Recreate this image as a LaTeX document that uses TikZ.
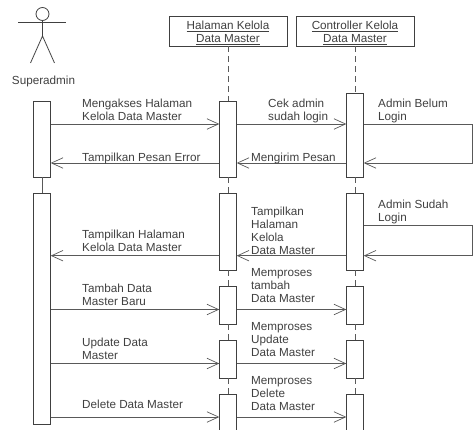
\documentclass[tikz,border=0pt]{standalone}
\usepackage{fontspec}
\setmainfont{Liberation Sans}
\usetikzlibrary{arrows.meta}
\definecolor{ink}{gray}{0.25}
\definecolor{wire}{gray}{0.35}
\tikzset{
  head/.style={draw=ink,line width=.9pt,fill=white,align=center,inner sep=0pt,minimum width=118pt,minimum height=30pt,text=ink,font=\fontsize{11.7}{13}\selectfont},
  bar/.style={draw=ink,line width=.9pt,fill=white,inner sep=0pt,minimum width=16.5pt},
  lbl/.style={anchor=north west,align=left,inner sep=0pt,yshift=-1.4pt,text=ink,font=\fontsize{11.7}{13}\selectfont},
  msg/.style={draw=wire,line width=.9pt,-{Straight Barb[length=11.5pt,width=10.5pt,line width=.7pt]}},
  life/.style={draw=wire,line width=.9pt,dash pattern=on 6pt off 4pt}
}
\begin{document}
\begin{tikzpicture}[x=1pt,y=-1pt]
\useasboundingbox (0,0) rectangle (473,430);
\clip (0,0) rectangle (473,430);
% actor
\draw (42.5,14) node (face) [circle,draw=ink,line width=.8pt,inner sep=0pt,minimum width=13pt] {};
\coordinate (neck) at (42.5,36);
\coordinate (armL) at (18,22.5);
\coordinate (armR) at (66,22.5);
\coordinate (legL) at (30.5,63);
\coordinate (legR) at (54.5,63);
\draw[ink,line width=.8pt] (face) -- (neck);
\draw[ink,line width=.8pt] (armL) -- (armR);
\draw[ink,line width=.8pt] (legL) -- (neck) -- (legR);
\draw (43.5,81) node (actor) [text=ink,font=\fontsize{11.7}{13}\selectfont] {Superadmin};
% heads
\draw (228,31) node (hal0) [head] {\rule{0pt}{13pt}\underline{Halaman Kelola}\\\underline{Data Master}};
\draw (355,31) node (ctl0) [head] {\rule{0pt}{13pt}\underline{Controller Kelola}\\\underline{Data Master}};
% bars
\draw (42,139) node (sa1) [bar,minimum height=76pt] {};
\draw (42,308.5) node (sa2) [bar,minimum height=231pt] {};
\draw (228,139) node (hal1) [bar,minimum height=76pt] {};
\draw (228,231.5) node (hal2) [bar,minimum height=77pt] {};
\draw (228,305) node (hal3) [bar,minimum height=38pt] {};
\draw (228,359) node (hal4) [bar,minimum height=38pt] {};
\draw (228,416) node (hal5) [bar,minimum height=44pt] {};
\draw (355,135) node (ctl1) [bar,minimum height=84pt] {};
\draw (355,231.5) node (ctl2) [bar,minimum height=77pt] {};
\draw (355,305) node (ctl3) [bar,minimum height=38pt] {};
\draw (355,359) node (ctl4) [bar,minimum height=38pt] {};
\draw (355,416) node (ctl5) [bar,minimum height=44pt] {};
% lifelines
\draw[wire,line width=.9pt] (sa1) -- (sa2);
\draw[life] (hal0) -- (hal1);
\draw[life] (hal1) -- (hal2);
\draw[life] (hal2) -- (hal3);
\draw[life] (hal3) -- (hal4);
\draw[life] (hal4) -- (hal5);
\draw[life] (ctl0) -- (ctl1);
\draw[life] (ctl1) -- (ctl2);
\draw[life] (ctl2) -- (ctl3);
\draw[life] (ctl3) -- (ctl4);
\draw[life] (ctl4) -- (ctl5);
% message heights
\coordinate (m1) at (0,124);
\coordinate (m2) at (0,163);
\coordinate (m3) at (0,225);
\coordinate (m4) at (0,255.7);
\coordinate (m5) at (0,309.5);
\coordinate (m6) at (0,363.5);
\coordinate (m7) at (0,417);
\coordinate (turn1) at (472.5,124);
\coordinate (turn2) at (472.5,163);
\coordinate (turn3) at (472.5,225);
\coordinate (turn4) at (472.5,255.7);
% messages
\draw[msg] (sa1.east |- m1) -- (hal1.west |- m1);
\draw[msg] (hal1.east |- m1) -- (ctl1.west |- m1);
\draw[msg] (ctl1.east |- m1) -- (turn1) -- (turn2) -- (ctl1.east |- m2);
\draw[msg] (ctl1.west |- m2) -- (hal1.east |- m2);
\draw[msg] (hal1.west |- m2) -- (sa1.east |- m2);
\draw[msg] (ctl2.east |- m3) -- (turn3) -- (turn4) -- (ctl2.east |- m4);
\draw[msg] (ctl2.west |- m4) -- (hal2.east |- m4);
\draw[msg] (hal2.west |- m4) -- (sa2.east |- m4);
\draw[msg] (sa2.east |- m5) -- (hal3.west |- m5);
\draw[msg] (hal3.east |- m5) -- (ctl3.west |- m5);
\draw[msg] (sa2.east |- m6) -- (hal4.west |- m6);
\draw[msg] (hal4.east |- m6) -- (ctl4.west |- m6);
\draw[msg] (sa2.east |- m7) -- (hal5.west |- m7);
\draw[msg] (hal5.east |- m7) -- (ctl5.west |- m7);
% labels
\draw (82,97) node (t1) [lbl] {Mengakses Halaman\\Kelola Data Master};
\draw (268,97) node (t2) [lbl] {Cek admin\\sudah login};
\draw (378,97) node (t3) [lbl] {Admin Belum\\Login};
\draw (82,151) node (t4) [lbl] {Tampilkan Pesan Error};
\draw (251,151) node (t5) [lbl] {Mengirim Pesan};
\draw (378,198) node (t6) [lbl] {Admin Sudah\\Login};
\draw (251,205.5) node (t7) [lbl] {Tampilkan\\Halaman\\Kelola\\Data Master};
\draw (82,228.5) node (t8) [lbl] {Tampilkan Halaman\\Kelola Data Master};
\draw (82,282.5) node (t9) [lbl] {Tambah Data\\Master Baru};
\draw (251,267) node (t10) [lbl] {Memproses\\tambah\\Data Master};
\draw (82,336.5) node (t11) [lbl] {Update Data\\Master};
\draw (251,321) node (t12) [lbl] {Memproses\\Update\\Data Master};
\draw (82,398) node (t13) [lbl] {Delete Data Master};
\draw (251,375) node (t14) [lbl] {Memproses\\Delete\\Data Master};
\end{tikzpicture}
\end{document}
